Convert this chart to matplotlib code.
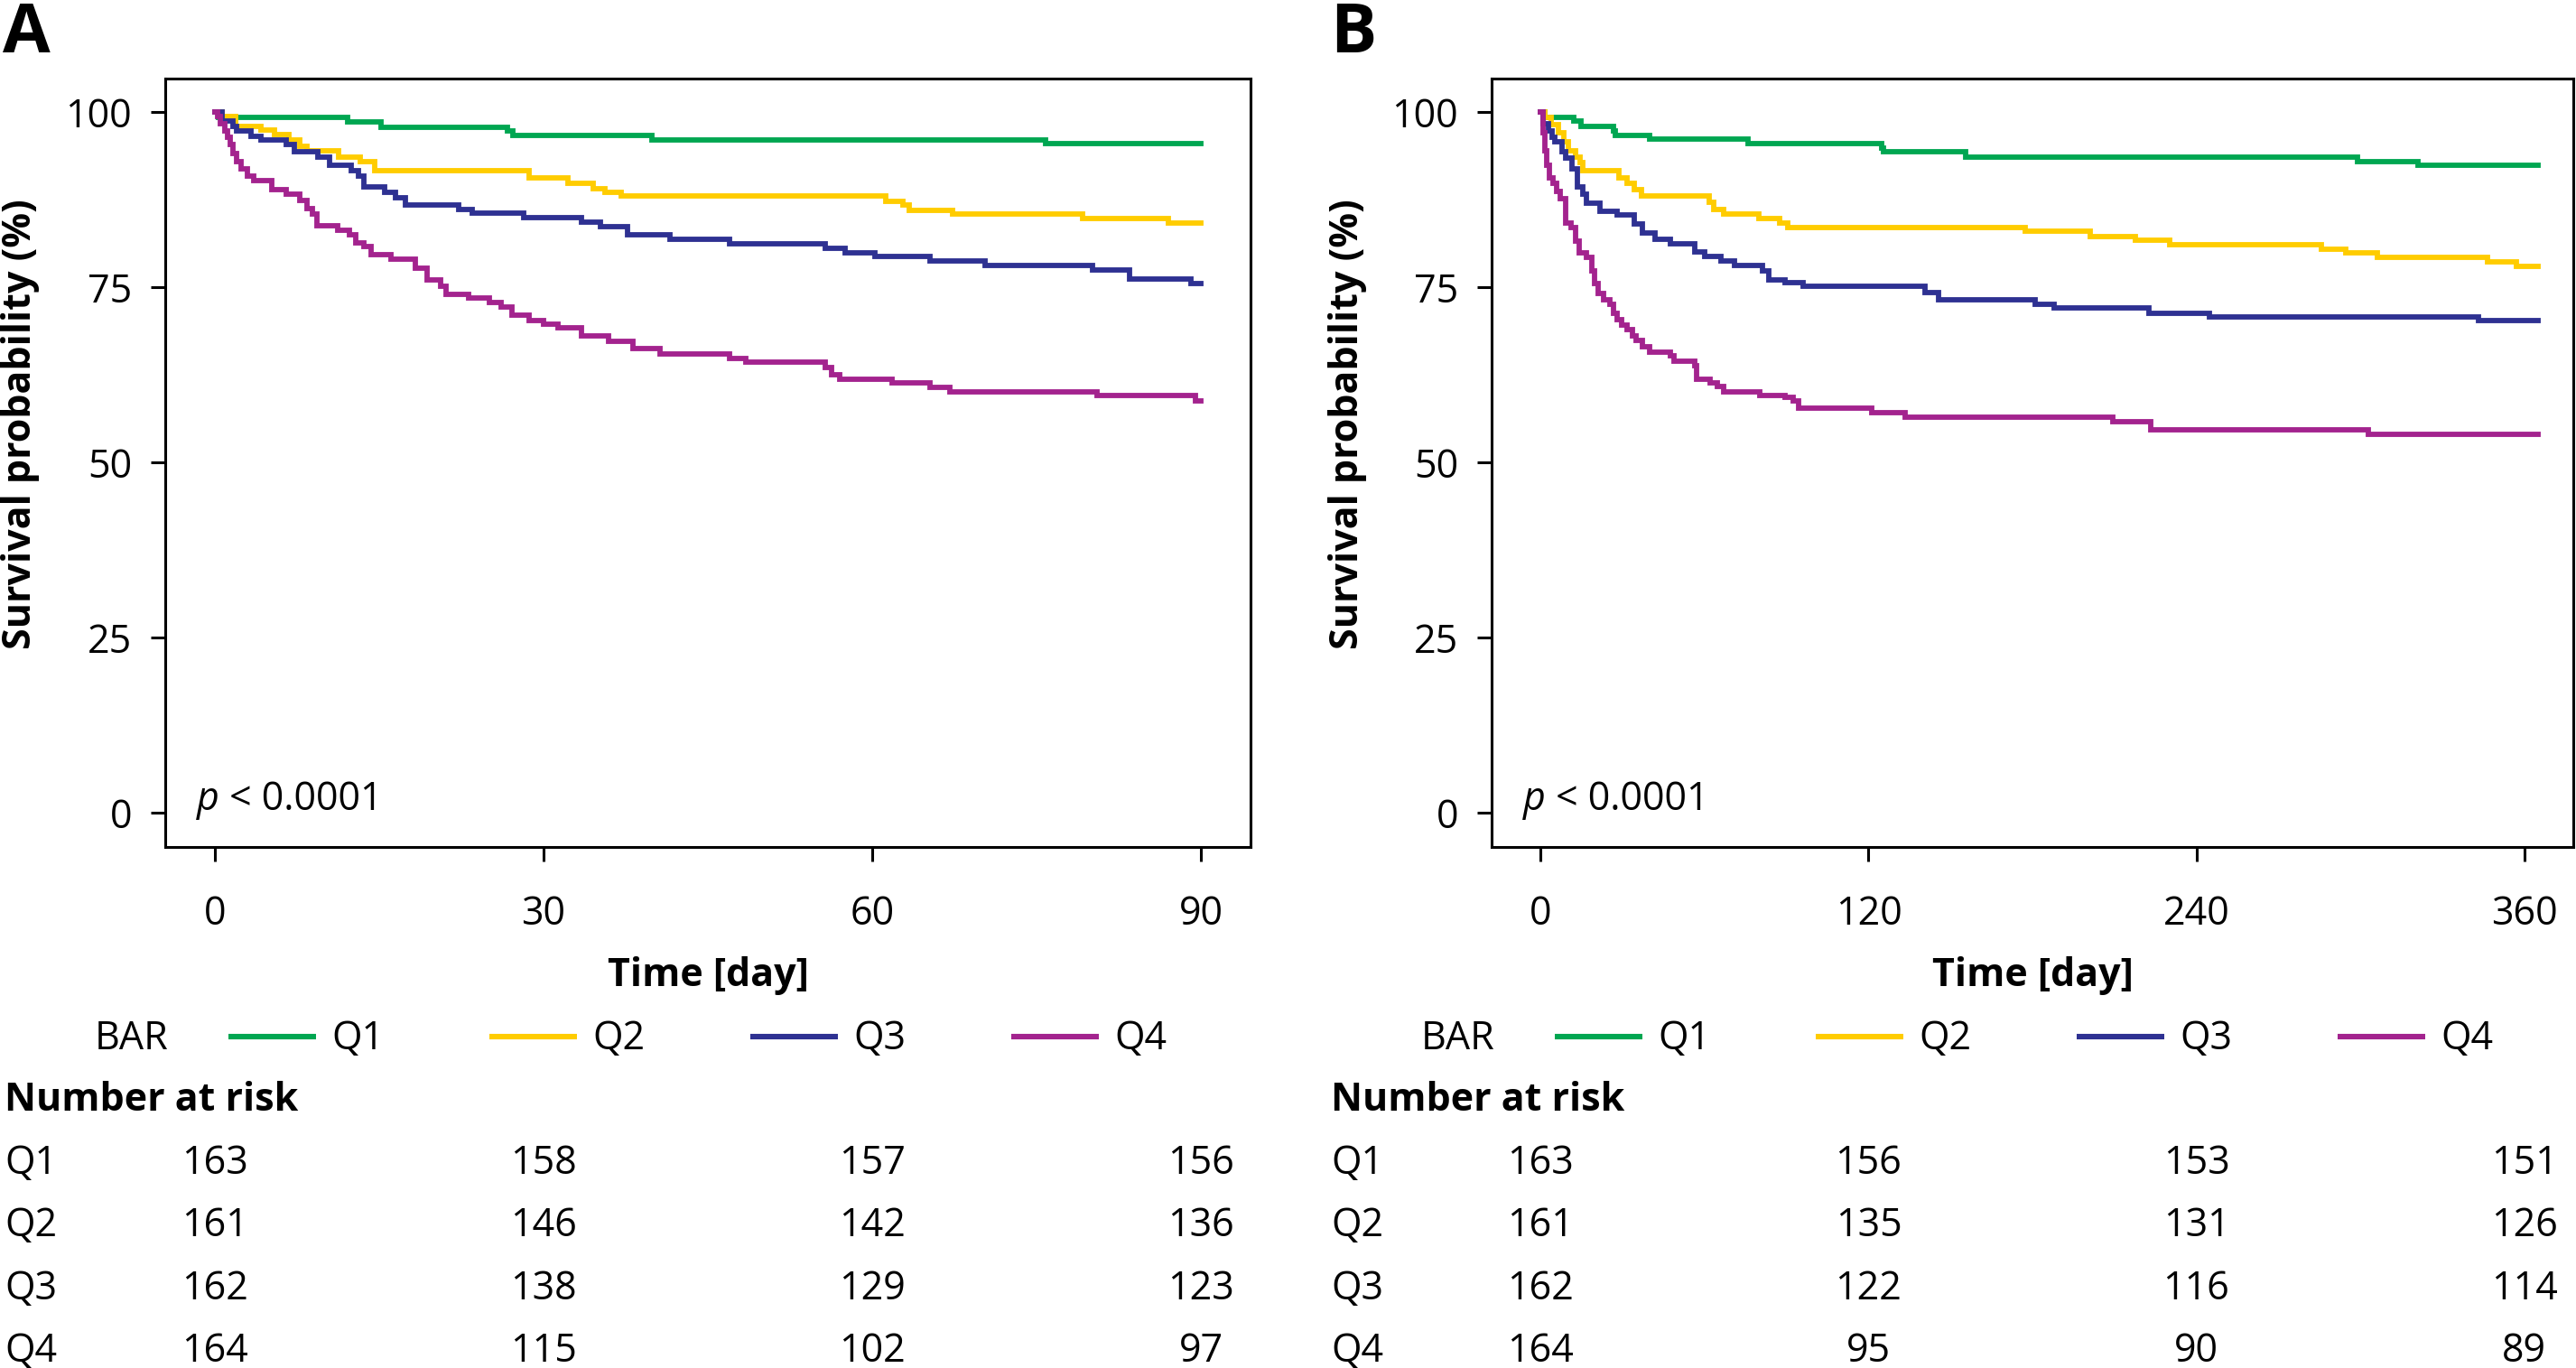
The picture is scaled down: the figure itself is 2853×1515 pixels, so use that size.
import matplotlib
matplotlib.use('Agg')
import matplotlib.pyplot as plt
from matplotlib import transforms
from matplotlib.lines import Line2D

W, H = 2853, 1515
DPI = 100
plt.rcParams['font.family'] = ['Open Sans', 'DejaVu Sans']
FS = 31

groups = ['Q1', 'Q2', 'Q3', 'Q4']
colors = ['#00a651', '#ffcc00', '#2e3192', '#a3238e']

# ---------------- Panel A (90 days) ----------------
a_t_q1 = [0, 0.4, 12.1, 15.2, 26.7, 27.2, 39.9, 75.8, 90]
a_s_q1 = [100, 99.3, 98.6, 97.9, 97.3, 96.7, 96.0, 95.5, 95.5]

a_t_q2 = [0, 0.7, 1.9, 4.2, 5.5, 6.8, 7.8, 8.4, 11.3, 13.3, 14.6, 28.7, 32.2, 34.5, 35.6,
          37.1, 61.2, 62.8, 63.4, 67.3, 79.2, 87.0, 90]
a_s_q2 = [100, 99.4, 98.0, 97.5, 96.8, 96.0, 95.1, 94.5, 93.6, 93.0, 91.7, 90.6, 89.9, 89.1, 88.6,
          88.0, 87.3, 86.8, 86.0, 85.4, 84.8, 84.2, 84.2]

a_t_q3 = [0, 0.7, 1.7, 2.0, 3.3, 4.2, 6.5, 7.3, 9.4, 10.5, 12.5, 13.1, 13.6, 15.5, 16.5, 17.4,
          22.3, 23.5, 28.2, 33.5, 35.2, 37.7, 41.5, 47.0, 55.7, 57.5, 60.2, 65.3, 70.3, 80.1,
          83.5, 89.1, 90]
a_s_q3 = [100, 98.8, 98.0, 97.3, 96.6, 96.0, 95.4, 94.3, 93.6, 92.4, 91.7, 90.9, 89.3, 88.5, 87.8, 86.8,
          86.1, 85.6, 84.9, 84.3, 83.6, 82.5, 81.8, 81.2, 80.6, 79.9, 79.4, 78.7, 78.1, 77.5,
          76.2, 75.6, 75.6]

a_t_q4 = [0, 0.3, 0.5, 0.9, 1.2, 1.4, 1.7, 2.0, 2.4, 3.0, 3.6, 5.2, 6.5, 7.8, 8.4, 8.9, 9.3,
          11.2, 12.3, 12.9, 13.6, 14.3, 16.1, 18.3, 19.4, 20.6, 21.1, 23.2, 25.1, 26.1, 27.1,
          28.7, 30.0, 31.3, 33.5, 35.9, 38.2, 40.6, 47.0, 48.5, 55.7, 56.3, 57.0, 61.8, 65.3,
          67.1, 80.5, 89.5, 90]
a_s_q4 = [100, 99.4, 98.4, 97.3, 96.4, 95.4, 94.1, 93.0, 91.9, 90.9, 90.2, 88.9, 88.3, 87.4, 86.3, 85.5, 83.8,
          83.2, 82.5, 81.4, 80.8, 79.7, 79.0, 77.7, 76.0, 75.2, 74.0, 73.5, 72.8, 72.2, 71.0,
          70.3, 69.8, 69.2, 68.0, 67.3, 66.2, 65.5, 64.8, 64.3, 63.6, 62.5, 61.9, 61.3, 60.7,
          60.1, 59.5, 58.8, 58.8]

a_xticks = [0, 30, 60, 90]
a_risk_q1 = [163, 158, 157, 156]
a_risk_q2 = [161, 146, 142, 136]
a_risk_q3 = [162, 138, 129, 123]
a_risk_q4 = [164, 115, 102, 97]

# ---------------- Panel B (360 days) ----------------
b_t_q1 = [0, 1.4, 12.0, 14.8, 26.7, 27.2, 39.8, 76.0, 124.8, 125.3, 155.7, 299.1, 321.3, 365]
b_s_q1 = [100, 99.3, 98.7, 98.0, 97.3, 96.7, 96.1, 95.5, 94.9, 94.3, 93.6, 93.0, 92.4, 92.4]

b_t_q2 = [0, 1.4, 3.9, 6.4, 8.5, 10.2, 12.8, 14.5, 15.3, 28.7, 31.7, 34.3, 36.8, 61.6, 63.4,
          67.1, 79.8, 87.4, 90.4, 177.2, 201.2, 217.6, 230.3, 285.9, 294.8, 306.2, 346.6, 357.2, 365]
b_s_q2 = [100, 99.2, 98.2, 97.1, 95.8, 94.5, 93.6, 92.8, 91.7, 90.6, 89.8, 88.9, 88.0, 87.2, 86.1,
          85.5, 84.8, 84.2, 83.5, 83.0, 82.3, 81.7, 81.1, 80.5, 79.9, 79.3, 78.6, 78.0, 78.0]

b_t_q3 = [0, 0.9, 2.7, 4.0, 5.2, 7.7, 9.0, 11.5, 13.5, 15.3, 16.6, 21.6, 27.9, 34.3, 37.3, 41.9,
          47.4, 56.5, 60.1, 65.9, 70.9, 81.1, 83.6, 89.4, 96.2, 140.5, 145.5, 180.9, 187.8,
          222.7, 244.7, 343.3, 365]
b_s_q3 = [100, 98.4, 97.3, 96.4, 95.8, 94.3, 93.4, 91.9, 89.3, 88.3, 87.0, 85.9, 85.3, 84.0, 82.7, 81.8,
          81.2, 80.1, 79.4, 78.7, 78.1, 77.3, 76.0, 75.7, 75.1, 74.3, 73.2, 72.6, 72.0,
          71.3, 70.8, 70.2, 70.2]

b_t_q4 = [0, 0.9, 1.4, 2.1, 3.2, 4.4, 5.7, 7.2, 9.0, 11.0, 12.8, 14.0, 16.6, 18.6, 19.6, 21.1,
          22.9, 25.4, 26.7, 27.9, 29.7, 31.7, 33.5, 35.0, 37.3, 39.8, 47.4, 48.9, 56.5, 57.0,
          62.1, 64.6, 67.1, 80.3, 89.4, 92.4, 94.5, 121.0, 133.4, 209.3, 223.4, 302.8, 365]
b_s_q4 = [100, 97.1, 94.5, 92.4, 90.6, 89.8, 88.7, 87.6, 84.2, 83.5, 81.6, 79.9, 79.3, 77.3, 75.6, 74.1,
          73.2, 72.6, 71.3, 70.4, 69.6, 68.9, 68.1, 67.4, 66.5, 65.7, 65.2, 64.4, 63.8, 61.9,
          61.4, 60.8, 60.1, 59.6, 59.3, 58.8, 57.8, 57.1, 56.5, 55.8, 54.6, 54.0, 54.0]

b_xticks = [0, 120, 240, 360]
b_risk_q1 = [163, 156, 153, 151]
b_risk_q2 = [161, 135, 131, 126]
b_risk_q3 = [162, 122, 116, 114]
b_risk_q4 = [164, 95, 90, 89]

yticks = [0, 25, 50, 75, 100]

fig = plt.figure(figsize=(W / DPI, H / DPI), dpi=DPI)
fig.patch.set_facecolor('white')


def fx(px):
    return px / W


def fy(py):
    return 1 - py / H


def panel(left_px, right_px, letter, letter_x, curves, xticks, xlim, risks):
    top_px, bot_px = 87, 938
    ax = fig.add_axes([fx(left_px), fy(bot_px), fx(right_px - left_px), (bot_px - top_px) / H])
    for (t, s), c in zip(curves, colors):
        ax.step(t, s, where='post', color=c, lw=4.2, solid_joinstyle='miter')
    ax.set_xlim(*xlim)
    ax.set_ylim(-4.9, 104.8)
    ax.set_xticks(xticks)
    ax.set_yticks(yticks)
    for sp in ax.spines.values():
        sp.set_linewidth(2.2)
    ax.tick_params(axis='both', length=11.5, width=2.2, labelsize=FS, color='black')
    ax.tick_params(axis='y', pad=15)
    ax.tick_params(axis='x', pad=26)
    ax.set_xlabel('Time [day]', fontsize=FS, fontweight='bold')
    ax.xaxis.label.set_va('baseline')
    ax.xaxis.set_label_coords(0.5, -(1092 - bot_px) / (bot_px - top_px))
    ax.set_ylabel('Survival probability (%)', fontsize=FS, fontweight='bold')
    ax.yaxis.label.set_va('center')
    ax.yaxis.set_label_coords(-160 / (right_px - left_px), 0.55)
    ax.text(0.029, 0.048, 'p', transform=ax.transAxes, fontsize=FS, fontstyle='italic',
            va='baseline', ha='left')
    ax.text(0.029 + 25 / (right_px - left_px), 0.048, ' < 0.0001', transform=ax.transAxes,
            fontsize=FS, va='baseline', ha='left')

    fig.text(fx(letter_x), fy(58), letter, fontsize=55, fontweight='bold', va='baseline', ha='left')

    # legend row
    L = left_px
    fig.text(fx(L - 78), fy(1162), 'BAR', fontsize=FS, va='baseline', ha='left')
    for i, (g, c) in enumerate(zip(groups, colors)):
        x0 = L + 70 + 289 * i
        fig.add_artist(Line2D([fx(x0), fx(x0 + 97)], [fy(1148), fy(1148)], color=c, lw=4.4,
                              transform=fig.transFigure, solid_capstyle='butt'))
        fig.text(fx(L + 184 + 289 * i), fy(1162), g, fontsize=FS, va='baseline', ha='left')

    # number at risk table
    fig.text(fx(L - 178), fy(1230), 'Number at risk', fontsize=FS, fontweight='bold',
             va='baseline', ha='left')
    trans = transforms.blended_transform_factory(ax.transData, fig.transFigure)
    for i, (g, row) in enumerate(zip(groups, risks)):
        yb = fy(1300 + 69.3 * i)
        fig.text(fx(L - 178), yb, g, fontsize=FS, va='baseline', ha='left')
        for xt, n in zip(xticks, row):
            ax.text(xt, yb, str(n), transform=trans, fontsize=FS, va='baseline', ha='center',
                    clip_on=False)
    return ax


panel(183, 1385, 'A', 3,
      [(a_t_q1, a_s_q1), (a_t_q2, a_s_q2), (a_t_q3, a_s_q3), (a_t_q4, a_s_q4)],
      a_xticks, (-4.5, 94.5), [a_risk_q1, a_risk_q2, a_risk_q3, a_risk_q4])
panel(1652, 2850, 'B', 1473,
      [(b_t_q1, b_s_q1), (b_t_q2, b_s_q2), (b_t_q3, b_s_q3), (b_t_q4, b_s_q4)],
      b_xticks, (-18, 378), [b_risk_q1, b_risk_q2, b_risk_q3, b_risk_q4])

fig.savefig('out.png', dpi=DPI, facecolor='white')
